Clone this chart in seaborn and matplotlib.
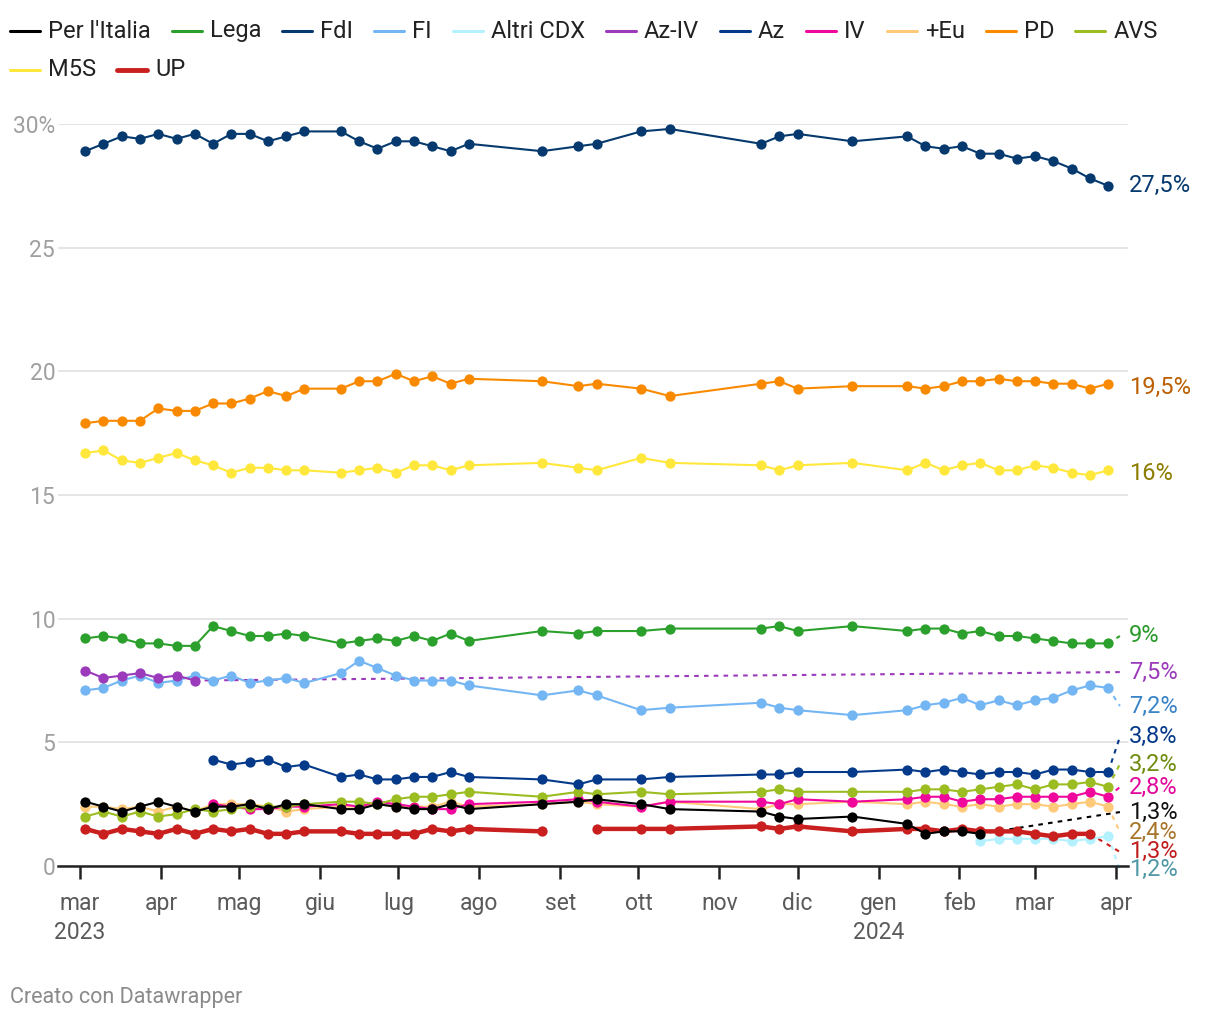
import pandas as pd
import numpy as np
import matplotlib.pyplot as plt
from matplotlib.lines import Line2D
import seaborn as sns

nan = np.nan

# poll dates (weekly)
dates = ['2023-03-03', '2023-03-10', '2023-03-17', '2023-03-24', '2023-03-31', '2023-04-07',
         '2023-04-14', '2023-04-21', '2023-04-28', '2023-05-05', '2023-05-12', '2023-05-19',
         '2023-05-26', '2023-06-09', '2023-06-16', '2023-06-23', '2023-06-30', '2023-07-07',
         '2023-07-14', '2023-07-21', '2023-07-28', '2023-08-25', '2023-09-08', '2023-09-15',
         '2023-10-02', '2023-10-13', '2023-11-17', '2023-11-24', '2023-12-01', '2023-12-22',
         '2024-01-12', '2024-01-19', '2024-01-26', '2024-02-02', '2024-02-09', '2024-02-16',
         '2024-02-23', '2024-03-01', '2024-03-08', '2024-03-15', '2024-03-22', '2024-03-29']

per_italia = [2.6, 2.4, 2.2, 2.4, 2.6, 2.4, 2.2, 2.4, 2.4, 2.5,
              2.3, 2.5, 2.5, 2.3, 2.3, 2.5, 2.4, 2.3, 2.3, 2.5,
              2.3, 2.5, 2.6, 2.7, 2.5, 2.3, 2.2, 2.0, 1.9, 2.0,
              1.7, 1.3, 1.4, 1.4, 1.3] + [nan] * 7
lega = [9.2, 9.3, 9.2, 9.0, 9.0, 8.9, 8.9, 9.7, 9.5, 9.3,
        9.3, 9.4, 9.3, 9.0, 9.1, 9.2, 9.1, 9.3, 9.1, 9.4,
        9.1, 9.5, 9.4, 9.5, 9.5, 9.6, 9.6, 9.7, 9.5, 9.7,
        9.5, 9.6, 9.6, 9.4, 9.5, 9.3, 9.3, 9.2, 9.1, 9.0, 9.0, 9.0]
fdi = [28.9, 29.2, 29.5, 29.4, 29.6, 29.4, 29.6, 29.2, 29.6, 29.6,
       29.3, 29.5, 29.7, 29.7, 29.3, 29.0, 29.3, 29.3, 29.1, 28.9,
       29.2, 28.9, 29.1, 29.2, 29.7, 29.8, 29.2, 29.5, 29.6, 29.3,
       29.5, 29.1, 29.0, 29.1, 28.8, 28.8, 28.6, 28.7, 28.5, 28.2, 27.8, 27.5]
fi = [7.1, 7.2, 7.5, 7.7, 7.4, 7.5, 7.7, 7.5, 7.7, 7.4,
      7.5, 7.6, 7.4, 7.8, 8.3, 8.0, 7.7, 7.5, 7.5, 7.5,
      7.3, 6.9, 7.1, 6.9, 6.3, 6.4, 6.6, 6.4, 6.3, 6.1,
      6.3, 6.5, 6.6, 6.8, 6.5, 6.7, 6.5, 6.7, 6.8, 7.1, 7.3, 7.2]
altri_cdx = [nan] * 34 + [1.0, 1.1, 1.1, 1.1, 1.1, 1.0, 1.1, 1.2]
az_iv = [7.9, 7.6, 7.7, 7.8, 7.6, 7.7, 7.5] + [nan] * 35
az = [nan] * 7 + [4.3, 4.1, 4.2, 4.3, 4.0, 4.1, 3.6, 3.7, 3.5, 3.5,
                  3.6, 3.6, 3.8, 3.6, 3.5, 3.3, 3.5, 3.5, 3.6, 3.7,
                  3.7, 3.8, 3.8, 3.9, 3.8, 3.9, 3.8, 3.7, 3.8, 3.8,
                  3.7, 3.9, 3.9, 3.8, 3.8]
iv = [nan] * 7 + [2.5, 2.4, 2.3, 2.3, 2.4, 2.4, 2.5, 2.4, 2.6, 2.5,
                  2.4, 2.3, 2.3, 2.5, 2.6, 2.7, 2.6, 2.4, 2.6, 2.6,
                  2.5, 2.7, 2.6, 2.7, 2.8, 2.8, 2.6, 2.7, 2.7, 2.8,
                  2.8, 2.8, 2.8, 3.0, 2.8]
piu_eu = [2.4, 2.4, 2.3, 2.4, 2.2, 2.4, 2.2, 2.5, 2.5, 2.5,
          2.4, 2.2, 2.3, 2.4, 2.4, 2.5, 2.4, 2.4, 2.4, 2.6,
          2.4, 2.5, 2.6, 2.5, 2.4, 2.6, 2.3, 2.5, 2.5, 2.6,
          2.5, 2.6, 2.5, 2.4, 2.5, 2.4, 2.5, 2.5, 2.4, 2.5, 2.6, 2.4]
pd_vals = [17.9, 18.0, 18.0, 18.0, 18.5, 18.4, 18.4, 18.7, 18.7, 18.9,
           19.2, 19.0, 19.3, 19.3, 19.6, 19.6, 19.9, 19.6, 19.8, 19.5,
           19.7, 19.6, 19.4, 19.5, 19.3, 19.0, 19.5, 19.6, 19.3, 19.4,
           19.4, 19.3, 19.4, 19.6, 19.6, 19.7, 19.6, 19.6, 19.5, 19.5, 19.3, 19.5]
avs = [2.0, 2.2, 2.0, 2.2, 2.0, 2.1, 2.3, 2.2, 2.3, 2.4,
       2.4, 2.4, 2.5, 2.6, 2.6, 2.5, 2.7, 2.8, 2.8, 2.9,
       3.0, 2.8, 3.0, 2.9, 3.0, 2.9, 3.0, 3.1, 3.0, 3.0,
       3.0, 3.1, 3.1, 3.0, 3.1, 3.2, 3.3, 3.1, 3.3, 3.3, 3.4, 3.2]
m5s = [16.7, 16.8, 16.4, 16.3, 16.5, 16.7, 16.4, 16.2, 15.9, 16.1,
       16.1, 16.0, 16.0, 15.9, 16.0, 16.1, 15.9, 16.2, 16.2, 16.0,
       16.2, 16.3, 16.1, 16.0, 16.5, 16.3, 16.2, 16.0, 16.2, 16.3,
       16.0, 16.3, 16.0, 16.2, 16.3, 16.0, 16.0, 16.2, 16.1, 15.9, 15.8, 16.0]
up = [1.5, 1.3, 1.5, 1.4, 1.3, 1.5, 1.3, 1.5, 1.4, 1.5,
      1.3, 1.3, 1.4, 1.4, 1.3, 1.3, 1.3, 1.3, 1.5, 1.4,
      1.5, 1.4, nan, 1.5, 1.5, 1.5, 1.6, 1.5, 1.6, 1.4,
      1.5, 1.5, 1.4, 1.5, 1.4, 1.4, 1.4, 1.3, 1.2, 1.3, 1.3, nan]

parties = ["Per l'Italia", 'Lega', 'FdI', 'FI', 'Altri CDX', 'Az-IV', 'Az',
           'IV', '+Eu', 'PD', 'AVS', 'M5S', 'UP']
series = [per_italia, lega, fdi, fi, altri_cdx, az_iv, az, iv, piu_eu, pd_vals, avs, m5s, up]
colors = ['#000000', '#2ca02c', '#063a6e', '#74b6f3', '#b3f1ff', '#9b3bbb', '#053a8a',
          '#f0079b', '#ffc97a', '#f98a00', '#9cbd22', '#ffe83b', '#c91f1f']
label_colors = ['#111111', '#2a9a2a', '#063a6e', '#3a84c6', '#4f98a4', '#9b3bbb', '#053a8a',
                '#e0089a', '#a8772c', '#bb5f02', '#6f8c10', '#8c7c00', '#c01d1d']
# vertical position of the end labels (shifted to avoid overlaps)
label_y = [2.18, 9.3, 27.5, 6.47, -0.16, 7.84, 5.22, 3.19, 1.37, 19.35, 4.12, 15.85, 0.57]

month_ticks = ['2023-03-01', '2023-04-01', '2023-05-01', '2023-06-01', '2023-07-01',
               '2023-08-01', '2023-09-01', '2023-10-01', '2023-11-01', '2023-12-01',
               '2024-01-01', '2024-02-01', '2024-03-01', '2024-04-01']
month_labels = ['mar\n2023', 'apr', 'mag', 'giu', 'lug', 'ago', 'set', 'ott', 'nov',
                'dic', 'gen\n2024', 'feb', 'mar', 'apr']

rows = []
for name, vals in zip(parties, series):
    s = pd.Series(vals, dtype=float)
    seg = s.isna().cumsum()
    for d, v, g in zip(dates, s, seg):
        rows.append({'date': pd.Timestamp(d), 'party': name, 'value': v, 'seg': g})
df = pd.DataFrame(rows).dropna(subset=['value'])

sns.set_theme(style='white')
plt.rcParams['font.family'] = ['Roboto', 'DejaVu Sans']

W, H = 1220, 1024
fig = plt.figure(figsize=(12.2, 10.24), dpi=100)
ax = fig.add_axes([58 / W, 1 - 866 / H, 1070 / W, 742 / H])

draw_order = ['Altri CDX', '+Eu', 'IV', 'AVS', 'Az', 'UP', "Per l'Italia",
              'FI', 'Az-IV', 'Lega', 'M5S', 'PD', 'FdI']
end_date = pd.Timestamp('2024-04-02 12:00')
for z, name in enumerate(draw_order):
    i = parties.index(name)
    sub = df[df['party'] == name]
    lw = 3.2 if name == 'UP' else 1.5
    sns.lineplot(data=sub, x='date', y='value', units='seg', estimator=None,
                 color=colors[i], lw=lw, marker='o', markersize=7.4, markeredgewidth=0,
                 legend=False, ax=ax, zorder=3 + z, clip_on=False)
    last = sub.iloc[-1]
    if abs(label_y[i] - last['value']) > 0.2:
        ax.plot([last['date'], end_date], [last['value'], label_y[i]], color=colors[i],
                lw=1.5, ls=(0, (2.2, 2.5)), zorder=2, clip_on=False)
    txt = f"{last['value']:g}%".replace('.', ',')
    ax.annotate(txt, xy=(1.0, label_y[i]), xycoords=('axes fraction', 'data'),
                xytext=(0.5, 0), textcoords='offset points', ha='left', va='center',
                fontsize=17, color=label_colors[i], annotation_clip=False)

ax.set_xlim(pd.Timestamp('2023-03-01') - pd.Timedelta(days=8.43),
            pd.Timestamp('2024-04-01') + pd.Timedelta(days=4.6))
ax.set_ylim(0, 30)
ax.set_yticks([0, 5, 10, 15, 20, 25, 30])
ax.set_yticklabels(['0', '5', '10', '15', '20', '25', '30%'])
ax.set_xticks(pd.to_datetime(month_ticks))
ax.set_xticklabels(month_labels)
ax.set_xlabel('')
ax.set_ylabel('')
ax.yaxis.grid(True, color='#e3e3e3', lw=1.3)
ax.set_axisbelow(True)
for side in ['top', 'left', 'right']:
    ax.spines[side].set_visible(False)
ax.spines['bottom'].set_color('#222222')
ax.spines['bottom'].set_linewidth(1.8)
ax.tick_params(axis='y', length=0, pad=2, labelcolor='#a0a0a0', labelsize=16.5)
ax.tick_params(axis='x', length=9, width=1.8, color='#222222', pad=10,
               labelcolor='#5a5a5a', labelsize=16.5, bottom=True)
for t in ax.get_xticklabels():
    t.set_linespacing(1.3)

# legend laid out in rows like the original
renderer = fig.canvas.get_renderer()
x, y = 10, 31
for name, c in zip(parties, colors):
    t = fig.text(0, 0, name, ha='left', va='center', fontsize=17, color='#222222')
    w = t.get_window_extent(renderer).width
    if x + 38 + w > 1212:
        x, y = 10, y + 39
    lw = 3.5 if name == 'UP' else 2.2
    fig.add_artist(Line2D([x / W, (x + 30) / W], [1 - y / H, 1 - y / H], color=c, lw=lw,
                          transform=fig.transFigure))
    t.set_position(((x + 38) / W, 1 - y / H))
    x = x + 38 + w + 21

fig.text(10 / W, 1 - 998 / H, 'Creato con Datawrapper', ha='left', va='center',
         fontsize=15.5, color='#8a8a8a')

fig.savefig('out.png', dpi=100)
